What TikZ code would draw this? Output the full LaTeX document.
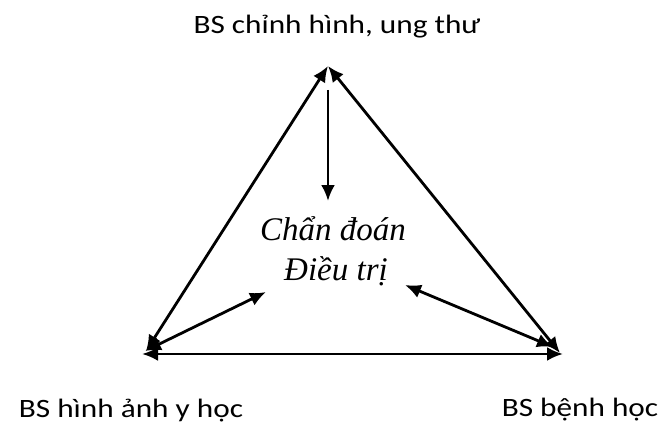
\documentclass[tikz,border=0pt]{standalone}
\usepackage{fontspec}
\setmainfont{Liberation Serif}
\newfontfamily\labelfont[FakeStretch=1.18]{Carlito}
\usetikzlibrary{arrows.meta}
\begin{document}
\begin{tikzpicture}[x=1pt,y=-1pt,
  tip/.style={Latex[length=16pt,width=14pt]},
  link/.style={line width=2.8pt,{Latex[length=16pt,width=14pt]}-{Latex[length=16pt,width=14pt]}},
  onelink/.style={line width=2.8pt,-{Latex[length=16pt,width=14pt]}},
  role/.style={font=\labelfont\fontsize{26.5}{30}\selectfont,inner sep=0pt,anchor=base},
  centre/.style={font=\itshape\fontsize{33}{40}\selectfont,inner sep=0pt,anchor=base}]
\useasboundingbox (0,0) rectangle (661,425);
\coordinate (T) at (328,66);
\coordinate (L) at (142,354);
\coordinate (R) at (563,354);
\coordinate (Lt) at (146,351);
\coordinate (Rt) at (560,353);
\coordinate (Tv) at (328,90);
\coordinate (Cd) at (328,201);
\coordinate (Cl) at (266,292);
\coordinate (Cr) at (405,285);
\coordinate (Ls) at (145,351);
\coordinate (Rs) at (553,347);
\node[centre] (C1) at (333,240) {Chẩn đoán};
\node[centre] (C2) at (336,280) {Điều trị};
\node[role] (top) at (337,34) {BS chỉnh hình, ung thư};
\node[role] (bl) at (131,417) {BS hình ảnh y học};
\node[role] (br) at (580,416) {BS bệnh học};
\draw[link] (Lt) -- (T);
\draw[link] (T) -- (Rt);
\draw[link] (L) -- (R);
\draw[onelink] (Tv) -- (Cd);
\draw[link] (Ls) -- (Cl);
\draw[link] (Cr) -- (Rs);
\end{tikzpicture}
\end{document}
